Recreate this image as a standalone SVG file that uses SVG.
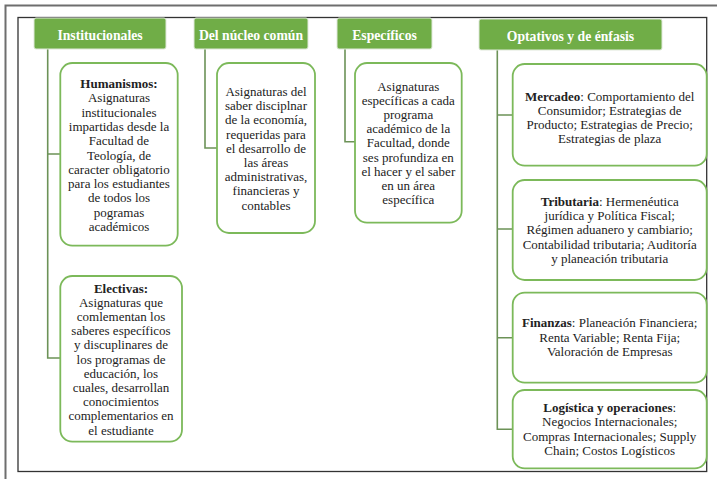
<svg xmlns="http://www.w3.org/2000/svg" width="717" height="479" viewBox="0 0 717 479">
<style>
.hdr rect{fill:#70ad47;stroke:#dfe8da;stroke-width:1}
.hdr text{font-family:"Liberation Serif","Times New Roman",serif;font-size:13.7px;font-weight:bold;fill:#ffffff;text-anchor:middle}
.box rect{fill:#ffffff;stroke:#7cb95a;stroke-width:1.8}
.box text{font-family:"Liberation Serif","Times New Roman",serif;font-size:13px;fill:#222222;text-anchor:middle}
.box tspan.b{font-weight:bold}
#connectors path{fill:none;stroke:#6c9257;stroke-width:1.6}
</style>
<rect x="0" y="0" width="717" height="479" fill="#ffffff"/>
<path d="M5.5,479 V5.5 H717" fill="none" stroke="#6e6e6e" stroke-width="2"/>
<rect x="18" y="17.5" width="688.7" height="454" fill="none" stroke="#333333" stroke-width="1.3"/>

<g id="connectors">
<path d="M47.7,49 V358 H60 M47.7,154 H60"/>
<path d="M205,49 V148 H217"/>
<path d="M345,49 V141.7 H355"/>
<path d="M497.3,50 V429.3 H512.7 M497.3,115 H512.7 M497.3,229 H512.7 M497.3,337.7 H512.7"/>
</g>

<g id="h-institucionales" class="hdr">
<rect x="34" y="18" width="132" height="31" rx="2"/>
<text x="100" y="39.5">Institucionales</text>
</g>
<g id="h-nucleo" class="hdr">
<rect x="194" y="18" width="114" height="31" rx="2"/>
<text x="251" y="39.5">Del núcleo común</text>
</g>
<g id="h-especificos" class="hdr">
<rect x="337" y="18" width="95" height="31" rx="2"/>
<text x="384.5" y="39.5">Específicos</text>
</g>
<g id="h-optativos" class="hdr">
<rect x="479" y="19" width="183" height="31" rx="2"/>
<text x="570.5" y="40.5">Optativos y de énfasis</text>
</g>

<g id="humanismos" class="box">
<rect x="60.3" y="63" width="117.4" height="182.7" rx="12"/>
<text x="119" y="88"><tspan class="b">Humanismos:</tspan><tspan x="119" dy="14.3">Asignaturas</tspan><tspan x="119" dy="14.3">institucionales</tspan><tspan x="119" dy="14.3">impartidas desde la</tspan><tspan x="119" dy="14.3">Facultad de</tspan><tspan x="119" dy="14.3">Teología, de</tspan><tspan x="119" dy="14.3">caracter obligatorio</tspan><tspan x="119" dy="14.3">para los estudiantes</tspan><tspan x="119" dy="14.3">de todos los</tspan><tspan x="119" dy="14.6">pogramas</tspan><tspan x="119" dy="14.3">académicos</tspan></text>
</g>

<g id="electivas" class="box">
<rect x="60.3" y="276" width="121.7" height="165.7" rx="12"/>
<text x="121" y="292.5"><tspan class="b">Electivas:</tspan><tspan x="121" dy="14.2">Asignaturas que</tspan><tspan x="121" dy="14.2">comlementan los</tspan><tspan x="121" dy="14.2">saberes específicos</tspan><tspan x="121" dy="14.2">y discuplinares de</tspan><tspan x="121" dy="14.2">los programas de</tspan><tspan x="121" dy="14.2">educación, los</tspan><tspan x="121" dy="14.2">cuales, desarrollan</tspan><tspan x="121" dy="14.2">conocimientos</tspan><tspan x="121" dy="14.2">complementarios en</tspan><tspan x="121" dy="14.2">el estudiante</tspan></text>
</g>

<g id="nucleo" class="box">
<rect x="217" y="63" width="98" height="170" rx="12"/>
<text x="266" y="96"><tspan>Asignaturas del</tspan><tspan x="266" dy="14.2">saber disciplnar</tspan><tspan x="266" dy="14.2">de la economía,</tspan><tspan x="266" dy="14.2">requeridas para</tspan><tspan x="266" dy="14.2">el desarrollo de</tspan><tspan x="266" dy="14.2">las áreas</tspan><tspan x="266" dy="14.2">administrativas,</tspan><tspan x="266" dy="14.2">financieras y</tspan><tspan x="266" dy="14.2">contables</tspan></text>
</g>

<g id="especificos" class="box">
<rect x="355" y="63" width="106.7" height="159.7" rx="12"/>
<text x="408.3" y="91"><tspan>Asignaturas</tspan><tspan x="408.3" dy="14.1">específicas a cada</tspan><tspan x="408.3" dy="14.1">programa</tspan><tspan x="408.3" dy="14.1">académico de la</tspan><tspan x="408.3" dy="14.1">Facultad, donde</tspan><tspan x="408.3" dy="14.1">ses profundiza en</tspan><tspan x="408.3" dy="14.1">el hacer y el saber</tspan><tspan x="408.3" dy="14.1">en un área</tspan><tspan x="408.3" dy="14.1">específica</tspan></text>
</g>

<g id="mercadeo" class="box">
<rect x="512.7" y="64" width="194" height="101.7" rx="12"/>
<text x="609.7" y="101"><tspan class="b">Mercadeo</tspan>: Comportamiento del<tspan x="609.7" dy="14">Consumidor; Estrategias de</tspan><tspan x="609.7" dy="14">Producto; Estrategias de Precio;</tspan><tspan x="609.7" dy="14">Estrategias de plaza</tspan></text>
</g>

<g id="tributaria" class="box">
<rect x="512.7" y="180" width="194" height="100" rx="12"/>
<text x="609.7" y="206"><tspan class="b">Tributaria</tspan>: Hermenéutica<tspan x="609.7" dy="14.2">jurídica y Política Fiscal;</tspan><tspan x="609.7" dy="14.2">Régimen aduanero y cambiario;</tspan><tspan x="609.7" dy="14.2">Contabilidad tributaria; Auditoría</tspan><tspan x="609.7" dy="14.2">y planeación tributaria</tspan></text>
</g>

<g id="finanzas" class="box">
<rect x="512.7" y="292.7" width="194" height="90" rx="12"/>
<text x="609.7" y="327"><tspan class="b">Finanzas</tspan>: Planeación Financiera;<tspan x="609.7" dy="14.5">Renta Variable; Renta Fija;</tspan><tspan x="609.7" dy="14.5">Valoración de Empresas</tspan></text>
</g>

<g id="logistica" class="box">
<rect x="512.7" y="390" width="194" height="78.3" rx="12"/>
<text x="609.7" y="411.7"><tspan class="b">Logística y operaciones</tspan>:<tspan x="609.7" dy="14.4">Negocios Internacionales;</tspan><tspan x="609.7" dy="14.4">Compras Internacionales; Supply</tspan><tspan x="609.7" dy="14.4">Chain; Costos Logísticos</tspan></text>
</g>
</svg>
